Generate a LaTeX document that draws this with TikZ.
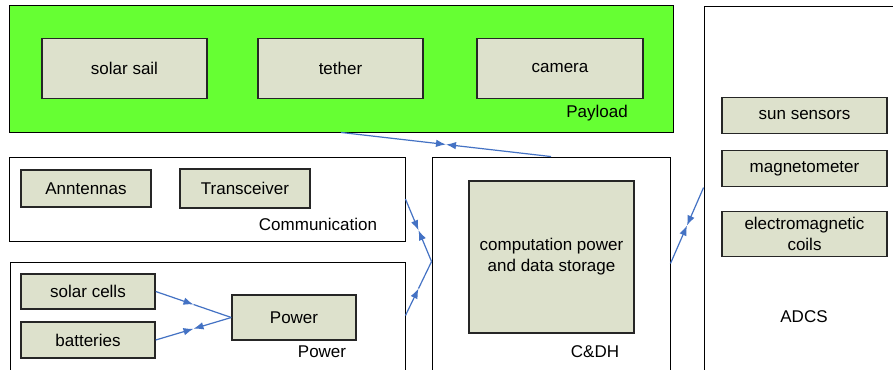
\documentclass[tikz,border=0pt]{standalone}
\usepackage{fontspec}
\setmainfont{Liberation Sans}
\usetikzlibrary{arrows.meta,calc}
\definecolor{boxfill}{RGB}{221,225,204}
\definecolor{plgreen}{RGB}{102,255,51}
\definecolor{linkblue}{RGB}{68,114,196}
\begin{document}
\begin{tikzpicture}[x=1pt,y=-1pt,
  group/.style={draw=black,line width=0.9pt,inner sep=0pt},
  part/.style={draw=black!85,line width=1.4pt,fill=boxfill,inner sep=0pt,
    font=\fontsize{17}{21}\selectfont,align=center},
  lbl/.style={font=\fontsize{17}{21}\selectfont,inner sep=0pt},
  link/.style={draw=linkblue,line width=1.2pt},
  linkarr/.style={link,-{Latex[length=10pt,width=7.5pt]}}]
\useasboundingbox (0,0) rectangle (893,369);
\clip (0,0) rectangle (893,369);
\fill[white] (0,0) rectangle (893,369);
% group boxes
\node[group,fill=plgreen,minimum width=664pt,minimum height=127pt] (payload) at (341,68.5) {};
\node[group,minimum width=396pt,minimum height=84pt] (comm) at (207,199) {};
\node[group,minimum width=395pt,minimum height=118pt] (power) at (207.5,321) {};
\node[group,minimum width=238pt,minimum height=230pt] (cdh) at (551,272) {};
\node[group,minimum width=296pt,minimum height=380pt] (adcs) at (852,196) {};
% attachment points on the group borders
\coordinate (cdhw) at ($(cdh.north west)+(0,105)$);
\coordinate (cdhe) at ($(cdh.north east)+(0,107)$);
\coordinate (poweast) at ($(power.north east)+(0,54)$);
\coordinate (adcsw) at ($(adcs.north west)+(0,182)$);
% parts
\node[part,minimum width=165pt,minimum height=60pt] (sail) at (124.5,68.5) {solar sail};
\node[part,minimum width=165pt,minimum height=60pt] (tether) at (340.5,68.5) {tether};
\node[part,minimum width=166pt,minimum height=60pt] (camera) at (560,68.5) {camera};
\node[part,minimum width=165pt,minimum height=36pt] (sun) at (804.5,115.5) {sun sensors};
\node[part,minimum width=165pt,minimum height=36pt] (mag) at (804.5,168.5) {magnetometer};
\node[part,minimum width=165pt,minimum height=45pt] (coils) at (804.5,234) {electromagnetic\\coils};
\node[part,minimum width=130pt,minimum height=37pt] (ant) at (86,188.5) {Anntennas};
\node[part,minimum width=130pt,minimum height=39pt] (trx) at (245,188.5) {Transceiver};
\node[part,minimum width=134pt,minimum height=35pt] (cells) at (88,291.5) {solar cells};
\node[part,minimum width=134pt,minimum height=36pt] (batt) at (88,340) {batteries};
\node[part,minimum width=124pt,minimum height=45pt] (pwr) at (294,317.5) {Power};
\node[part,minimum width=165pt,minimum height=152pt] (comp) at (551.5,257) {computation power\\and data storage};
% labels
\node[lbl] (lpay) at (597,113) {Payload};
\node[lbl] (lcomm) at (318,224) {Communication};
\node[lbl] (lpow) at (322,352) {Power};
\node[lbl] (lcdh) at (595,352) {C\&DH};
\node[lbl] (ladcs) at (804,317) {ADCS};
% midpoints
\coordinate (m1) at ($(payload.south)!0.5!(cdh.north)$);
\coordinate (m2) at ($(comm.east)!0.5!(cdhw)$);
\coordinate (m3) at ($(poweast)!0.5!(cdhw)$);
\coordinate (m4) at ($(cdhe)!0.5!(adcsw)$);
\coordinate (m5) at ($(cells.east)!0.5!(pwr.west)$);
\coordinate (m6) at ($(batt.east)!0.5!(pwr.west)$);
% connectors
\draw[linkarr] (payload.south) -- (m1);
\draw[linkarr] (cdh.north) -- (m1);
\draw[linkarr] (comm.east) -- (m2);
\draw[linkarr] (cdhw) -- (m2);
\draw[linkarr] (poweast) -- (m3);
\draw[link] (m3) -- (cdhw);
\draw[linkarr] (cdhe) -- (m4);
\draw[linkarr] (adcsw) -- (m4);
\draw[linkarr] (cells.east) -- (m5);
\draw[link] (m5) -- (pwr.west);
\draw[linkarr] (batt.east) -- (m6);
\draw[linkarr] (pwr.west) -- (m6);
\end{tikzpicture}
\end{document}
